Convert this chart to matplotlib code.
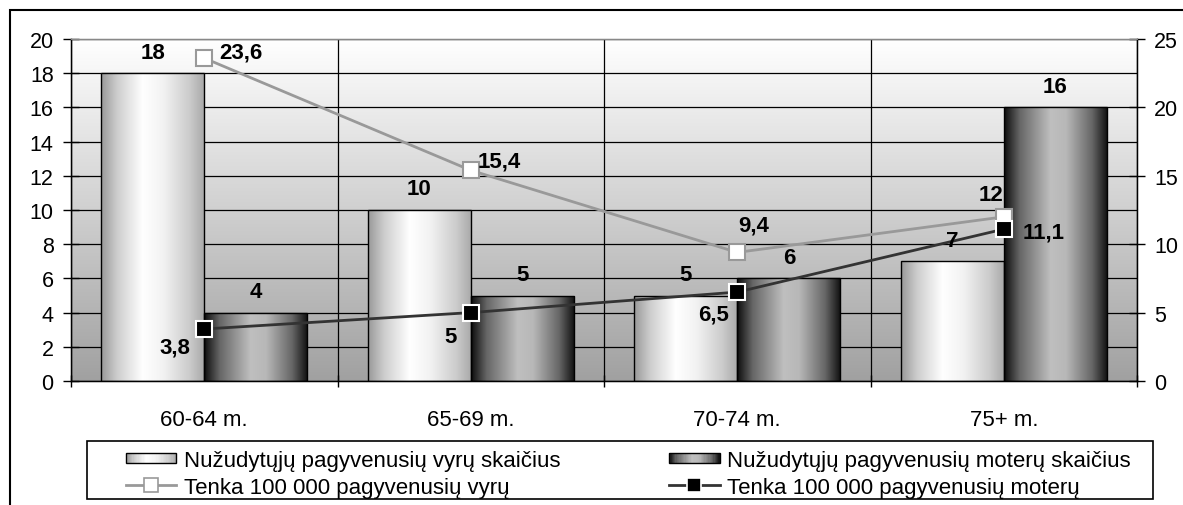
import numpy as np
import matplotlib
matplotlib.use("Agg")
import matplotlib.pyplot as plt
from matplotlib.patches import Rectangle
from matplotlib.lines import Line2D
from matplotlib.legend_handler import HandlerBase

plt.rcParams['font.family'] = ['Liberation Sans', 'DejaVu Sans']

# --- duomenys ---
categories = ["60-64 m.", "65-69 m.", "70-74 m.", "75+ m."]
men_count = [18, 10, 5, 7]
women_count = [4, 5, 6, 16]
men_rate = [23.6, 15.4, 9.4, 12.0]
women_rate = [3.8, 5.0, 6.5, 11.1]

men_rate_text = ["23,6", "15,4", "9,4", "12"]
women_rate_text = ["3,8", "5", "6,5", "11,1"]

legend_labels = [
    "Nužudytųjų pagyvenusių vyrų skaičius",
    "Tenka 100 000 pagyvenusių vyrų",
    "Nužudytųjų pagyvenusių moterų skaičius",
    "Tenka 100 000 pagyvenusių moterų",
]

# etikečių poslinkiai (pikseliais) nuo žymeklio
men_label_off = [(15, 6, 'left'), (7, 9, 'left'), (16, 27, 'center'), (-13, 22, 'center')]
women_label_off = [(-29, -18, 'center'), (-20, -24, 'center'), (-24, -22, 'center'), (40, -3, 'center')]

FS = 16
TICK_FS = 15.5
W, H = 1183, 506


def men_profile(t):
    return np.interp(t, [0, 0.15, 0.4, 0.6, 0.85, 1], [0.6, 0.8, 1.0, 0.95, 0.8, 0.66])


def women_profile(t):
    return np.interp(t, [0, 0.15, 0.45, 0.6, 0.85, 1], [0.05, 0.4, 0.75, 0.72, 0.4, 0.06])


class GradientHandler(HandlerBase):
    """Legendos stačiakampis su horizontaliu gradientu."""

    def __init__(self, profile, n=40):
        super().__init__()
        self.profile = profile
        self.n = n

    def create_artists(self, legend, orig_handle, xdescent, ydescent,
                       width, height, fontsize, trans):
        arts = []
        h = height * 0.65
        y0 = -ydescent + (height - h) / 2
        for i in range(self.n):
            t = (i + 0.5) / self.n
            g = float(self.profile(t))
            r = Rectangle((-xdescent + width * i / self.n, y0), width / self.n * 1.05, h,
                          facecolor=(g, g, g), edgecolor='none', transform=trans)
            arts.append(r)
        arts.append(Rectangle((-xdescent, y0), width, h, facecolor='none',
                              edgecolor='black', lw=1, transform=trans))
        return arts


def gradient_bars(ax, bars, profile):
    t = np.linspace(0, 1, 200)
    g = profile(t)
    img = np.dstack([g, g, g])
    img = np.repeat(img, 2, axis=0)
    for b in bars:
        x0, w, h = b.get_x(), b.get_width(), b.get_height()
        im = ax.imshow(img, extent=[x0, x0 + w, 0, h], aspect='auto', zorder=2.5,
                       interpolation='bilinear')
        im.set_clip_path(b)


fig = plt.figure(figsize=(W / 100, H / 100), dpi=100)
ax = fig.add_axes([71 / W, 1 - 382 / H, (1137 - 71) / W, (382 - 40) / H])

x = np.arange(len(categories))
bw = 0.387
ax.set_xlim(-0.5, len(categories) - 0.5)
ax.set_ylim(0, 20)

# fono gradientas
bg = np.linspace(0.63, 1.0, 256)[:, None]
ax.imshow(np.dstack([bg, bg, bg]), extent=[-0.5, len(categories) - 0.5, 0, 20],
          aspect='auto', origin='lower', zorder=0, interpolation='bilinear')

bars_m = ax.bar(x - bw / 2, men_count, bw, facecolor='none', edgecolor='black', lw=1, zorder=3)
bars_w = ax.bar(x + bw / 2, women_count, bw, facecolor='none', edgecolor='black', lw=1, zorder=3)
gradient_bars(ax, bars_m, men_profile)
gradient_bars(ax, bars_w, women_profile)

ax.set_xlim(-0.5, len(categories) - 0.5)
ax.set_ylim(0, 20)
ax.set_yticks(np.arange(0, 21, 2))
ax.set_xticks(np.arange(-0.5, len(categories), 1))
ax.set_xticklabels([])
ax.set_xticks(x, minor=True)
ax.set_xticklabels(categories, minor=True, fontsize=FS)
ax.tick_params(axis='x', which='minor', length=0, pad=20)
ax.tick_params(axis='x', which='major', direction='inout', length=8, width=1)
ax.tick_params(axis='y', direction='inout', length=11, width=1, labelsize=TICK_FS, pad=7)
ax.grid(True, which='major', color='black', lw=0.9, zorder=1)
ax.set_axisbelow(True)
for s in ax.spines.values():
    s.set_linewidth(1)
ax.spines['top'].set_color('#888888')

# antroji ašis - linijos
ax2 = ax.twinx()
ax2.set_ylim(0, 25)
ax2.set_yticks(np.arange(0, 26, 5))
ax2.tick_params(axis='y', direction='inout', length=11, width=1, labelsize=TICK_FS, pad=7)
ax2.spines['top'].set_color('#888888')

ax2.plot(x, men_rate, color='#999999', lw=2, marker='s', ms=12,
         mfc='white', mec='#999999', mew=1.5, zorder=4)
ax2.plot(x, women_rate, color='#333333', lw=2, marker='s', ms=12,
         mfc='black', mec='white', mew=1.5, zorder=5)

# reikšmių etiketės
for xi, v in zip(x, men_count):
    ax2.annotate(str(v), (xi - bw / 2, v), xycoords=ax.transData, xytext=(0, 21),
                 textcoords='offset pixels', ha='center', va='center',
                 fontsize=FS, fontweight='bold', zorder=6)
for xi, v in zip(x, women_count):
    ax2.annotate(str(v), (xi + bw / 2, v), xycoords=ax.transData, xytext=(0, 21),
                 textcoords='offset pixels', ha='center', va='center',
                 fontsize=FS, fontweight='bold', zorder=6)
for xi, v, s, (dx, dy, ha) in zip(x, men_rate, men_rate_text, men_label_off):
    ax2.annotate(s, (xi, v), xytext=(dx, dy), textcoords='offset pixels',
                 ha=ha, va='center', fontsize=FS, fontweight='bold', zorder=6)
for xi, v, s, (dx, dy, ha) in zip(x, women_rate, women_rate_text, women_label_off):
    ax2.annotate(s, (xi, v), xytext=(dx, dy), textcoords='offset pixels',
                 ha=ha, va='center', fontsize=FS, fontweight='bold', zorder=6)

# legenda (rėmelis piešiamas atskirai)
h_men_bar = Rectangle((0, 0), 1, 1)
h_women_bar = Rectangle((0, 0), 1, 1, facecolor='black')
h_men_line = Line2D([], [], color='#999999', lw=2, marker='s', ms=10, mfc='white', mec='#999999', mew=1.2)
h_women_line = Line2D([], [], color='#333333', lw=2, marker='s', ms=10, mfc='black', mec='white', mew=1.2)

fig.legend([h_men_bar, h_men_line, h_women_bar, h_women_line], legend_labels,
           ncol=2, loc='upper left', bbox_to_anchor=(126 / W, 1 - 451 / H),
           bbox_transform=fig.transFigure, fontsize=FS, frameon=False,
           handlelength=2.27, handletextpad=0.33, labelspacing=0.25, borderpad=0,
           borderaxespad=0, columnspacing=4.9,
           handler_map={h_men_bar: GradientHandler(men_profile),
                        h_women_bar: GradientHandler(women_profile)})
fig.add_artist(Rectangle((87 / W, 1 - 500 / H), (1153 - 87) / W, 58 / H,
                         transform=fig.transFigure, fill=False, edgecolor='black', lw=1.2))

# išorinis rėmelis
fig.add_artist(Rectangle((10 / W, -0.1), 1.2, 0.1 + 1 - 11 / H, transform=fig.transFigure,
                         fill=False, edgecolor='black', lw=1.5))

plt.savefig("out.png", dpi=100)
